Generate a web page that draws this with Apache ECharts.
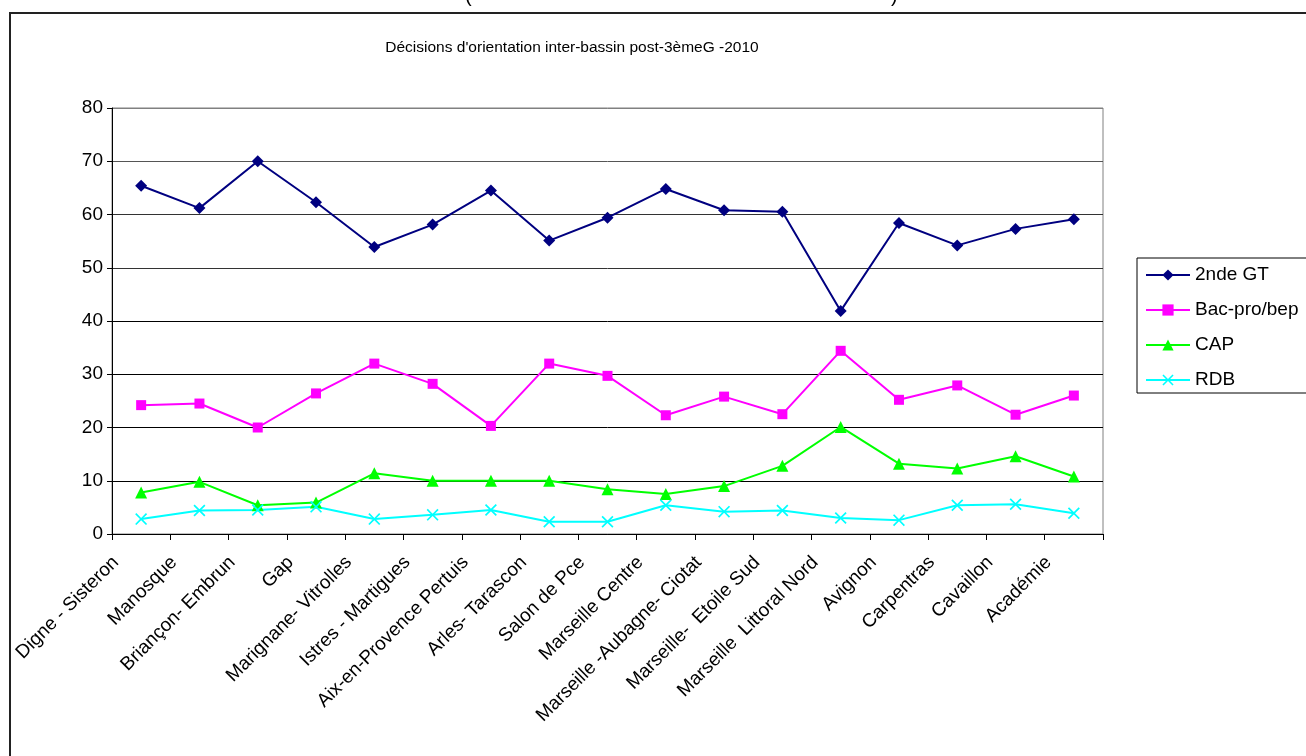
<!DOCTYPE html>
<html>
<head>
<meta charset="utf-8">
<title>Décisions d'orientation inter-bassin post-3èmeG -2010</title>
<script src="https://cdn.jsdelivr.net/npm/echarts@6/dist/echarts.min.js"></script>
<style>
  html, body { margin: 0; padding: 0; background: #fff; }
  #chart { width: 1306px; height: 756px; }
</style>
</head>
<body>
<div id="chart"></div>
<script>
// bassins (axe des x)
const bassins = [
  'Digne - Sisteron', 'Manosque', 'Briançon- Embrun', 'Gap',
  'Marignane- Vitrolles', 'Istres - Martigues', 'Aix-en-Provence Pertuis',
  'Arles- Tarascon', 'Salon de Pce', 'Marseille Centre',
  'Marseille -Aubagne- Ciotat', 'Marseille-  Etoile Sud',
  'Marseille  Littoral Nord', 'Avignon', 'Carpentras', 'Cavaillon', 'Académie'
];

// valeurs (%)
const secondeGT = [65.4, 61.2, 70.0, 62.3, 53.9, 58.1, 64.5, 55.1, 59.4, 64.8, 60.8, 60.5, 41.9, 58.4, 54.2, 57.3, 59.1];
const bacPro    = [24.2, 24.5, 20.0, 26.4, 32.0, 28.2, 20.3, 32.0, 29.7, 22.3, 25.8, 22.5, 34.4, 25.2, 27.9, 22.4, 26.0];
const cap       = [7.8, 9.8, 5.4, 5.9, 11.4, 10.0, 10.0, 10.0, 8.4, 7.5, 9.0, 12.8, 20.1, 13.2, 12.3, 14.6, 10.8];
const rdb       = [2.8, 4.4, 4.5, 5.1, 2.8, 3.6, 4.5, 2.3, 2.3, 5.4, 4.2, 4.4, 3.0, 2.6, 5.4, 5.6, 3.9];

const yTicks = [0, 10, 20, 30, 40, 50, 60, 70, 80];

const FONT = 'Liberation Sans, Arial, sans-serif';
const crossSymbol = 'path://M0,1L1,0L5,4L9,0L10,1L6,5L10,9L9,10L5,6L1,10L0,9L4,5Z';

function serie(name, data, color, symbol, size) {
  return {
    name: name,
    type: 'line',
    data: data,
    symbol: symbol,
    symbolSize: size,
    showAllSymbol: true,
    lineStyle: { color: color, width: 2 },
    itemStyle: { color: color },
    emphasis: { disabled: true },
    z: 3
  };
}

let myChart = echarts.init(document.getElementById('chart'));
let option = {
  animation: false,
  backgroundColor: '#fff',
  textStyle: { fontFamily: FONT },
  title: {
    text: "Décisions d'orientation inter-bassin post-3èmeG -2010",
    left: 567,
    top: 35,
    textAlign: 'center',
    textStyle: { fontFamily: FONT, fontSize: 15.5, fontWeight: 'normal', color: '#000' }
  },
  legend: {
    orient: 'vertical',
    left: 1137,
    top: 258,
    padding: [7, 40, 3, 8],
    itemWidth: 44,
    itemHeight: 14,
    itemGap: 15,
    borderColor: '#000',
    borderWidth: 1,
    backgroundColor: '#fff',
    textStyle: { fontFamily: FONT, fontSize: 19, color: '#000', lineHeight: 20 },
    data: ['2nde GT', 'Bac-pro/bep', 'CAP', 'RDB']
  },
  grid: {
    left: 112,
    right: 203,
    top: 108,
    bottom: 222,
    show: true,
    borderColor: '#808080',
    borderWidth: 1,
    containLabel: false
  },
  xAxis: {
    type: 'category',
    data: bassins,
    boundaryGap: true,
    axisLine: { lineStyle: { color: '#000', width: 1 } },
    axisTick: { show: true, alignWithLabel: false, length: 6, lineStyle: { color: '#000' } },
    axisLabel: {
      interval: 0,
      rotate: 45,
      margin: 0,
      padding: [0, 36, 36, 0],
      fontFamily: FONT,
      fontSize: 19,
      color: '#000'
    },
    splitLine: { show: false }
  },
  yAxis: {
    type: 'value',
    min: yTicks[0],
    max: yTicks[yTicks.length - 1],
    interval: 10,
    axisLine: { show: true, lineStyle: { color: '#000', width: 1 } },
    axisTick: { show: true, length: 5, lineStyle: { color: '#000' } },
    axisLabel: { margin: 9, fontFamily: FONT, fontSize: 19, color: '#000' },
    splitLine: {
      lineStyle: {
        color: ['#000', '#000', '#000', '#000', '#000', '#333', '#333', '#555', '#808080'],
        width: 1
      }
    }
  },
  graphic: [
    {
      type: 'rect',
      shape: { x: 10, y: 13, width: 1400, height: 800 },
      style: { fill: 'none', stroke: '#222', lineWidth: 2 },
      silent: true
    },
    {
      type: 'text', left: 465, top: -14,
      style: { text: '(', font: '20px ' + FONT, fill: '#000' }
    },
    {
      type: 'text', left: 891, top: -14,
      style: { text: ')', font: '20px ' + FONT, fill: '#000' }
    }
  ],
  series: [
    serie('2nde GT', secondeGT, '#000080', 'diamond', 12),
    serie('Bac-pro/bep', bacPro, '#FF00FF', 'rect', 10),
    serie('CAP', cap, '#00FF00', 'triangle', 12),
    serie('RDB', rdb, '#00FFFF', crossSymbol, 12)
  ]
};

myChart.setOption(option, true);
window.addEventListener('resize', () => {
  myChart.resize();
});
</script>
</body>
</html>
